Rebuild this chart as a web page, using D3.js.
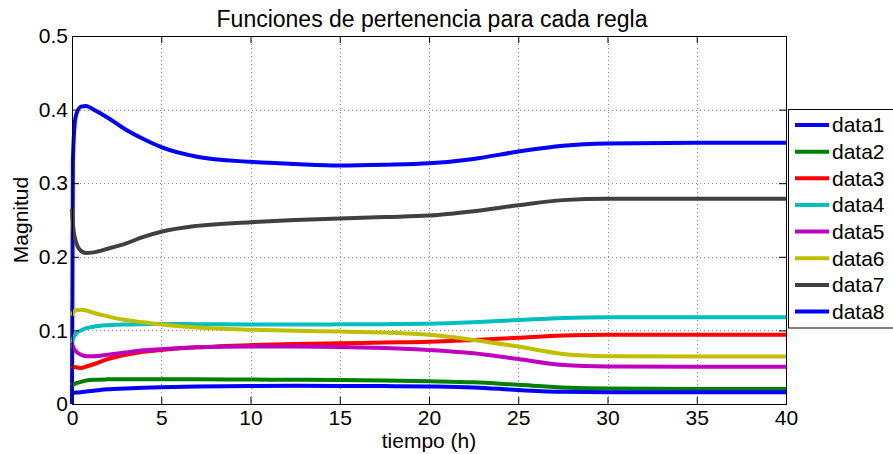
<!DOCTYPE html>
<html>
<head>
<meta charset="utf-8">
<script src="https://cdn.jsdelivr.net/npm/d3@7"></script>
<style>
  html, body { margin: 0; padding: 0; background: #fff; }
  svg { display: block; font-family: "Liberation Sans", Arial, Helvetica, sans-serif; }
</style>
</head>
<body>
<svg id="chart" width="893" height="454"></svg>
<script>
// Sample times (h)
const tiempo = [0, 0.05, 0.2, 0.5, 0.8, 1.2, 2, 3, 4, 5, 7, 10, 12.5, 15, 17.5, 20, 22.5, 25, 27.5, 30, 35, 40];

// Membership value of each rule over time
const data1 = [0, 0.33, 0.39, 0.404, 0.405, 0.40, 0.389, 0.373, 0.36, 0.349, 0.336, 0.329, 0.326, 0.324, 0.325, 0.327, 0.333, 0.343, 0.351, 0.354, 0.355, 0.355];
const data2 = [0.025, 0.026, 0.028, 0.030, 0.032, 0.033, 0.0335, 0.0337, 0.0337, 0.0336, 0.0335, 0.0332, 0.033, 0.0327, 0.032, 0.031, 0.0295, 0.026, 0.0225, 0.021, 0.0205, 0.0205];
const data3 = [0.052, 0.051, 0.050, 0.049, 0.051, 0.054, 0.061, 0.067, 0.071, 0.0735, 0.077, 0.080, 0.0815, 0.0825, 0.0835, 0.0845, 0.087, 0.090, 0.093, 0.094, 0.094, 0.094];
const data4 = [0.083, 0.088, 0.095, 0.100, 0.103, 0.105, 0.107, 0.108, 0.1085, 0.1088, 0.1085, 0.108, 0.108, 0.1082, 0.1085, 0.109, 0.111, 0.114, 0.117, 0.118, 0.118, 0.118];
const data5 = [0.082, 0.078, 0.072, 0.067, 0.065, 0.065, 0.067, 0.070, 0.073, 0.0745, 0.077, 0.078, 0.078, 0.0775, 0.076, 0.0735, 0.069, 0.061, 0.053, 0.051, 0.0505, 0.0505];
const data6 = [0.12, 0.124, 0.127, 0.128, 0.127, 0.124, 0.119, 0.114, 0.111, 0.108, 0.104, 0.101, 0.0995, 0.0985, 0.097, 0.094, 0.087, 0.078, 0.068, 0.065, 0.0645, 0.0645];
const data7 = [0.265, 0.245, 0.222, 0.208, 0.205, 0.206, 0.211, 0.218, 0.227, 0.234, 0.242, 0.247, 0.25, 0.252, 0.254, 0.256, 0.262, 0.270, 0.277, 0.279, 0.279, 0.279];
const data8 = [0.015, 0.015, 0.0155, 0.016, 0.017, 0.018, 0.020, 0.021, 0.022, 0.0228, 0.0238, 0.0245, 0.0247, 0.0246, 0.0243, 0.0238, 0.0225, 0.019, 0.0165, 0.016, 0.016, 0.016];

const seriesNames = ["data1", "data2", "data3", "data4", "data5", "data6", "data7", "data8"];
const seriesValues = [data1, data2, data3, data4, data5, data6, data7, data8];
const seriesColors = ["#0000ff", "#008000", "#ff0000", "#00bfbf", "#bf00bf", "#bfbf00", "#404040", "#0000ff"];

const xTicks = [0, 5, 10, 15, 20, 25, 30, 35, 40];
const yTicks = [0, 0.1, 0.2, 0.3, 0.4, 0.5];

const titleText = "Funciones de pertenencia para cada regla";
const xLabel = "tiempo (h)";
const yLabel = "Magnitud";

// Layout
const plot = { left: 72, right: 786, top: 36, bottom: 404 };
const tickLen = 7;
const fontSize = 21;

const svg = d3.select("#chart");

const x = d3.scaleLinear().domain([0, 40]).range([plot.left, plot.right]);
const y = d3.scaleLinear().domain([0, 0.5]).range([plot.bottom, plot.top]);

// Dotted grid
const grid = svg.append("g").attr("stroke", "#8c8c8c").attr("stroke-width", 1)
  .attr("stroke-dasharray", "1,3").attr("shape-rendering", "crispEdges");
grid.selectAll("line.gx").data(xTicks.slice(1, -1)).join("line")
  .attr("x1", d => Math.round(x(d)) + 0.5).attr("x2", d => Math.round(x(d)) + 0.5)
  .attr("y1", plot.top).attr("y2", plot.bottom);
grid.selectAll("line.gy").data(yTicks.slice(1, -1)).join("line")
  .attr("x1", plot.left).attr("x2", plot.right)
  .attr("y1", d => Math.round(y(d)) + 0.5).attr("y2", d => Math.round(y(d)) + 0.5);

// Curves
const line = d3.line().x(d => x(d[0])).y(d => y(d[1])).curve(d3.curveMonotoneX);
const curves = svg.append("g").attr("fill", "none").attr("stroke-width", 4)
  .attr("stroke-linejoin", "round").attr("stroke-linecap", "butt");
seriesValues.forEach((vals, i) => {
  curves.append("path")
    .attr("d", line(tiempo.map((t, k) => [t, vals[k]])))
    .attr("stroke", seriesColors[i]);
});

// Axes with inward ticks on all four sides
function styleAxis(g) {
  g.select(".domain").remove();
  g.selectAll(".tick line").attr("stroke", "#000");
  g.selectAll(".tick text").attr("fill", "#000").attr("font-size", fontSize)
    .attr("font-family", "Liberation Sans, Arial, sans-serif");
}
svg.append("g").attr("transform", `translate(0,${plot.bottom})`)
  .call(d3.axisBottom(x).tickValues(xTicks).tickFormat(d3.format("d")).tickSizeInner(-tickLen).tickSizeOuter(0).tickPadding(6))
  .call(styleAxis);
svg.append("g").attr("transform", `translate(0,${plot.top})`)
  .call(d3.axisTop(x).tickValues(xTicks).tickFormat("").tickSizeInner(-tickLen).tickSizeOuter(0))
  .call(styleAxis);
svg.append("g").attr("transform", `translate(${plot.left},0)`)
  .call(d3.axisLeft(y).tickValues(yTicks).tickFormat(d => d === 0 ? "0" : d3.format(".1f")(d)).tickSizeInner(-tickLen).tickSizeOuter(0).tickPadding(4))
  .call(styleAxis);
svg.append("g").attr("transform", `translate(${plot.right},0)`)
  .call(d3.axisRight(y).tickValues(yTicks).tickFormat("").tickSizeInner(-tickLen).tickSizeOuter(0))
  .call(styleAxis);

// Plot box
svg.append("rect")
  .attr("x", plot.left + 0.5).attr("y", plot.top + 0.5)
  .attr("width", plot.right - plot.left).attr("height", plot.bottom - plot.top)
  .attr("fill", "none").attr("stroke", "#000").attr("stroke-width", 1);

// Title and axis labels
svg.append("text").attr("x", (plot.left + plot.right) / 2 + 3).attr("y", 27)
  .attr("text-anchor", "middle").attr("font-size", 23).text(titleText);
svg.append("text").attr("x", (plot.left + plot.right) / 2).attr("y", 448)
  .attr("text-anchor", "middle").attr("font-size", 21).text(xLabel);
svg.append("text").attr("transform", `translate(28,${(plot.top + plot.bottom) / 2}) rotate(-90)`)
  .attr("text-anchor", "middle").attr("font-size", fontSize).text(yLabel);

// Legend
const legend = { left: 788, top: 109, bottom: 327.5, rowStart: 125, rowStep: 26.65 };
svg.append("rect")
  .attr("x", legend.left + 0.5).attr("y", legend.top + 0.5)
  .attr("width", 120).attr("height", legend.bottom - legend.top)
  .attr("fill", "#fff").attr("stroke", "#000").attr("stroke-width", 1);
const rows = svg.append("g").selectAll("g").data(seriesNames).join("g")
  .attr("transform", (d, i) => `translate(0,${legend.rowStart + i * legend.rowStep})`);
rows.append("line").attr("x1", 795).attr("x2", 829).attr("y1", 0).attr("y2", 0)
  .attr("stroke", (d, i) => seriesColors[i]).attr("stroke-width", 4);
rows.append("text").attr("x", 832).attr("y", 0).attr("dy", "0.35em")
  .attr("font-size", fontSize).text(d => d);
</script>
</body>
</html>
